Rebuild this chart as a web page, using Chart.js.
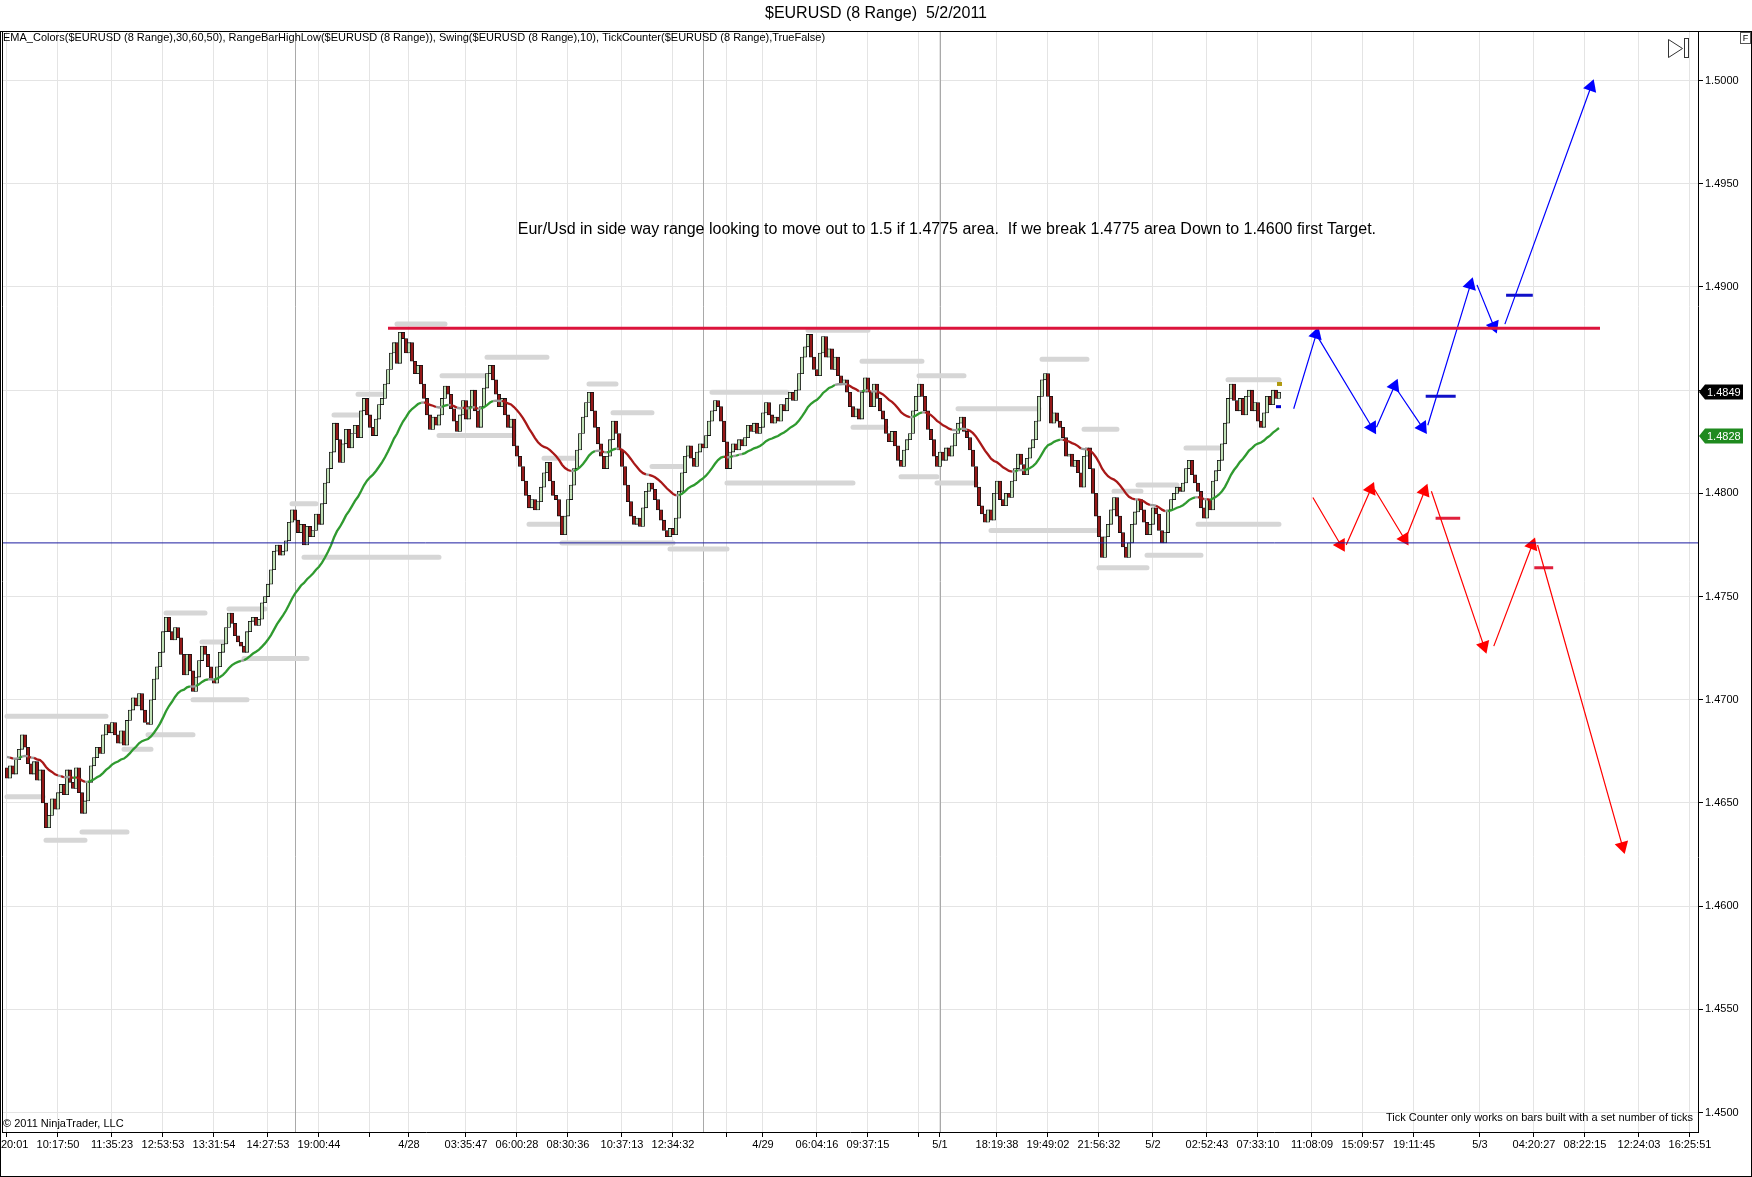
<!DOCTYPE html>
<html>
<head>
<meta charset="utf-8">
<script src="https://cdn.jsdelivr.net/npm/chart.js@4.4.1/dist/chart.umd.min.js"></script>
<style>
  html, body { margin: 0; padding: 0; background: #fff; }
</style>
</head>
<body>
<canvas id="chart" width="1752" height="1177"></canvas>
<script>
// closes of the 8-pip range bars (open = previous close)
const closes = [
  1.4662,1.4668,1.4664,1.4671,1.4676,1.4683,1.4677,1.4669,1.4664,1.4670,
  1.4661,1.4666,1.4650,1.4638,1.4644,1.4652,1.4647,1.4655,1.4659,1.4654,
  1.4666,1.4660,1.4657,1.4667,1.4655,1.4645,1.4651,1.4660,1.4668,1.4672,
  1.4677,1.4674,1.4683,1.4688,1.4684,1.4689,1.4683,1.4679,1.4685,1.4678,
  1.4690,1.4695,1.4701,1.4697,1.4703,1.4695,1.4689,1.4688,1.4700,1.4710,
  1.4716,1.4723,1.4733,1.4740,1.4733,1.4729,1.4735,1.4730,1.4722,1.4712,
  1.4722,1.4714,1.4704,1.4711,1.4719,1.4726,1.4722,1.4716,1.4710,1.4708,
  1.4716,1.4723,1.4727,1.4735,1.4742,1.4737,1.4731,1.4728,1.4726,1.4723,
  1.4733,1.4738,1.4740,1.4736,1.4739,1.4747,1.4750,1.4756,1.4763,1.4772,
  1.4775,1.4770,1.4772,1.4777,1.4786,1.4792,1.4787,1.4781,1.4785,1.4775,
  1.4784,1.4779,1.4782,1.4790,1.4785,1.4795,1.4805,1.4812,1.4820,1.4834,
  1.4826,1.4815,1.4824,1.4831,1.4822,1.4829,1.4833,1.4827,1.4840,1.4846,
  1.4838,1.4832,1.4828,1.4836,1.4843,1.4846,1.4853,1.4860,1.4868,1.4873,
  1.4863,1.4878,1.4875,1.4868,1.4873,1.4864,1.4858,1.4862,1.4853,1.4846,
  1.4838,1.4831,1.4837,1.4833,1.4838,1.4846,1.4852,1.4848,1.4841,1.4835,
  1.4830,1.4838,1.4845,1.4836,1.4842,1.4850,1.4840,1.4832,1.4842,1.4851,
  1.4858,1.4862,1.4855,1.4848,1.4842,1.4846,1.4838,1.4832,1.4836,1.4823,
  1.4818,1.4813,1.4806,1.4799,1.4793,1.4797,1.4792,1.4796,1.4803,1.4810,
  1.4815,1.4806,1.4799,1.4797,1.4789,1.4780,1.4789,1.4797,1.4804,1.4812,
  1.4821,1.4829,1.4837,1.4844,1.4849,1.4840,1.4832,1.4824,1.4818,1.4812,
  1.4818,1.4826,1.4835,1.4829,1.4821,1.4813,1.4804,1.4796,1.4789,1.4785,
  1.4788,1.4784,1.4793,1.4801,1.4805,1.4802,1.4797,1.4792,1.4787,1.4782,
  1.4779,1.4783,1.4780,1.4788,1.4801,1.4810,1.4818,1.4823,1.4817,1.4813,
  1.4820,1.4824,1.4822,1.4828,1.4835,1.4840,1.4845,1.4842,1.4835,1.4825,
  1.4812,1.4820,1.4824,1.4821,1.4826,1.4823,1.4827,1.4833,1.4830,1.4834,
  1.4829,1.4832,1.4839,1.4844,1.4838,1.4834,1.4837,1.4835,1.4843,1.4840,
  1.4846,1.4849,1.4845,1.4850,1.4858,1.4866,1.4871,1.4877,1.4866,1.4860,
  1.4857,1.4868,1.4876,1.4866,1.4870,1.4860,1.4866,1.4857,1.4853,1.4855,
  1.4849,1.4842,1.4837,1.4841,1.4836,1.4849,1.4856,1.4849,1.4842,1.4853,
  1.4846,1.4840,1.4836,1.4829,1.4825,1.4830,1.4823,1.4816,1.4813,1.4821,
  1.4826,1.4829,1.4840,1.4847,1.4853,1.4847,1.4840,1.4831,1.4826,1.4818,
  1.4813,1.4820,1.4816,1.4822,1.4818,1.4823,1.4829,1.4834,1.4837,1.4830,
  1.4827,1.4821,1.4813,1.4803,1.4794,1.4790,1.4786,1.4792,1.4787,1.4800,
  1.4806,1.4797,1.4794,1.4800,1.4798,1.4806,1.4812,1.4819,1.4814,1.4809,
  1.4817,1.4822,1.4826,1.4835,1.4847,1.4855,1.4858,1.4847,1.4834,1.4839,
  1.4835,1.4832,1.4827,1.4818,1.4819,1.4813,1.4816,1.4810,1.4803,1.4818,
  1.4822,1.4812,1.4800,1.4789,1.4779,1.4769,1.4779,1.4785,1.4792,1.4798,
  1.4789,1.4781,1.4774,1.4769,1.4776,1.4785,1.4791,1.4797,1.4792,1.4786,
  1.4780,1.4785,1.4793,1.4790,1.4782,1.4776,1.4781,1.4792,1.4797,1.4800,
  1.4803,1.4801,1.4805,1.4812,1.4816,1.4809,1.4805,1.4801,1.4793,1.4788,
  1.4797,1.4792,1.4806,1.4811,1.4816,1.4824,1.4834,1.4846,1.4853,1.4845,
  1.4840,1.4846,1.4838,1.4847,1.4850,1.4840,1.4844,1.4835,1.4832,1.4839,
  1.4847,1.4843,1.4850,1.4846,1.4849
];
const firstOpen = 1.4667;

// EMA_Colors(30): value before the first bar
const emaSeed = 1.4673;
const emaPeriod = 30;
const emaFlat = 0.00003;

// bottom axis: bar index of each tick and its label
const tickIdx = [0, 17, 35, 52, 69, 87, 104, 121, 134, 153, 170, 187, 205, 222, 240, 252, 270, 287,
  304, 311, 330, 347, 364, 382, 400, 417, 435, 452, 469, 491, 509, 526, 544, 561];
const tickLabels = ['09:20:01', '10:17:50', '11:35:23', '12:53:53', '13:31:54', '14:27:53', '19:00:44', '',
  '4/28', '03:35:47', '06:00:28', '08:30:36', '10:37:13', '12:34:32', '', '4/29', '06:04:16', '09:37:15',
  '', '5/1', '18:19:38', '19:49:02', '21:56:32', '5/2', '02:52:43', '07:33:10', '11:08:09', '15:09:57',
  '19:11:45', '5/3', '04:20:27', '08:22:15', '12:24:03', '16:25:51'];
const priceTicks = [1.4500, 1.4550, 1.4600, 1.4650, 1.4700, 1.4750, 1.4800, 1.4850, 1.4900, 1.4950, 1.5000];
const sessionBreaks = [96, 232, 311];

// Swing(10) levels: first bar, last bar, price
const swingFrom = [0, 0, 13, 25, 39, 47, 53, 65, 62, 74, 79, 95, 99, 109, 117, 130, 145, 144, 160, 179, 174, 194, 202,
  185, 221, 215, 235, 240, 267, 285, 282, 304, 298, 317, 310, 345, 359, 328, 369, 377, 364, 372, 380, 393, 397, 407];
const swingTo = [33, 12, 26, 40, 48, 62, 66, 73, 80, 86, 100, 103, 144, 118, 125, 146, 160, 169, 180, 190, 185, 203, 215,
  222, 240, 225, 260, 282, 287, 305, 293, 319, 310, 344, 323, 360, 370, 364, 378, 390, 373, 380, 398, 404, 424, 424];
const swingPrice = [1.4692, 1.4653, 1.4632, 1.4636, 1.4676, 1.4683, 1.4742, 1.4728, 1.4700, 1.4744, 1.4720, 1.4795,
  1.4769, 1.4838, 1.4848, 1.4882, 1.4857, 1.4828, 1.4866, 1.4817, 1.4785, 1.4853, 1.4839, 1.4776, 1.4773, 1.4813,
  1.4849, 1.4805, 1.4879, 1.4864, 1.4832, 1.4857, 1.4808, 1.4841, 1.4805, 1.4865, 1.4831, 1.4782, 1.4801, 1.4804,
  1.4764, 1.4764, 1.4770, 1.4822, 1.4785, 1.4855];

// drawn levels
const rangeTop = 1.4880, rangeTopFrom = 127, rangeTopTo = 531;
const breakLevel = 1.4776;

// hand-drawn scenarios: arrows (from -> to, head at "to") and short level dashes
const bullX0 = [428.9, 436.4, 456.5, 462.5, 473.6, 490.0, 499.3];
const bullY0 = [1.4841, 1.4877, 1.4832, 1.4852, 1.4833, 1.4901, 1.4882];
const bullX1 = [436.4, 455.0, 462.5, 471.8, 487.8, 495.6, 528.0];
const bullY1 = [1.4877, 1.4832, 1.4852, 1.4832, 1.4901, 1.4881, 1.4997];
const bearX0 = [435.3, 446.4, 455.8, 466.2, 474.8, 495.6, 510.2];
const bearY0 = [1.4798, 1.4775, 1.4802, 1.4778, 1.4801, 1.4726, 1.4775];
const bearX1 = [444.6, 454.6, 465.8, 472.5, 492.3, 508.4, 538.5];
const bearY1 = [1.4775, 1.4802, 1.4778, 1.4801, 1.4726, 1.4775, 1.4629];
const bullDashX0 = [472.9, 499.7], bullDashX1 = [482.9, 508.6], bullDashY = [1.4847, 1.4896];
const bearDashX0 = [476.2, 509.1], bearDashX1 = [484.4, 515.4], bearDashY = [1.4788, 1.4764];

// right-axis markers: last price, EMA
const lastPrice = 1.4849, lastEma = 1.4828;
// tick counter marks on the last bar
const counterHigh = 1.4853, counterLow = 1.4842;

const note = 'Eur/Usd in side way range looking to move out to 1.5 if 1.4775 area.  If we break 1.4775 area Down to 1.4600 first Target.';
const noteAt = { x: 313.3, y: 1.4928 };

const FONT = "'Liberation Sans', Arial, sans-serif";
Chart.defaults.font.family = FONT;

const opens = closes.map((c, i) => (i === 0 ? firstOpen : closes[i - 1]));
const ema = [];
let e = emaSeed;
const k = 2 / (emaPeriod + 1);
closes.forEach(c => { e = e + k * (c - e); ema.push(e); });

function segs(x0, y0, x1, y1) {
    const pts = [];
    for (let i = 0; i < x0.length; i++) {
        pts.push({ x: x0[i], y: y0[i] }, { x: x1[i], y: y1[i] }, { x: x1[i], y: null });
    }
    return pts;
}

function headAngle(ctx) {
    const i = ctx.dataIndex;
    if (i % 3 !== 1) return 0;
    const d = ctx.dataset.data;
    const sx = ctx.chart.scales.x, sy = ctx.chart.scales.y;
    const dx = sx.getPixelForValue(d[i].x) - sx.getPixelForValue(d[i - 1].x);
    const dy = sy.getPixelForValue(d[i].y) - sy.getPixelForValue(d[i - 1].y);
    return Math.atan2(dx, -dy) * 180 / Math.PI;
}

function arrowSet(color, x0, y0, x1, y1) {
    return {
        type: 'line',
        data: segs(x0, y0, x1, y1),
        borderColor: color,
        backgroundColor: color,
        borderWidth: 1.2,
        pointStyle: 'triangle',
        pointRadius: ctx => (ctx.dataIndex % 3 === 1 ? 8 : 0),
        pointRotation: headAngle,
        pointBorderWidth: 0,
        pointBackgroundColor: color,
        tension: 0,
        order: 0
    };
}

const chrome = {
    id: 'chrome',
    beforeDraw(chart) {
        const c = chart.ctx;
        c.save();
        c.fillStyle = '#fff';
        c.fillRect(0, 0, chart.width, chart.height);
        c.restore();
    },
    beforeDatasetsDraw(chart) {
        const c = chart.ctx, a = chart.chartArea, sx = chart.scales.x;
        c.save();
        c.strokeStyle = '#a9a9a9';
        c.lineWidth = 1;
        sessionBreaks.forEach(v => {
            const x = Math.round(sx.getPixelForValue(v)) + 0.5;
            c.beginPath(); c.moveTo(x, a.top); c.lineTo(x, a.bottom); c.stroke();
        });
        c.restore();
    },
    afterDatasetsDraw(chart) {
        const c = chart.ctx, sx = chart.scales.x, sy = chart.scales.y;
        const last = closes.length - 1;
        c.save();
        // tick counter marks
        const lx = sx.getPixelForValue(last);
        c.fillStyle = '#b09a10';
        c.fillRect(lx - 2, sy.getPixelForValue(counterHigh) - 2, 5, 4);
        c.fillStyle = '#0000d0';
        c.fillRect(lx - 3, sy.getPixelForValue(counterLow) - 1.5, 5, 3);
        // note
        c.fillStyle = '#000';
        c.font = '16px ' + FONT;
        c.textAlign = 'center';
        c.textBaseline = 'middle';
        c.fillText(note, sx.getPixelForValue(noteAt.x), sy.getPixelForValue(noteAt.y));
        c.restore();
    },
    afterDraw(chart) {
        const c = chart.ctx, a = chart.chartArea, sy = chart.scales.y;
        c.save();
        c.strokeStyle = '#000';
        c.lineWidth = 1;
        // outer frame and plot frame
        c.strokeRect(0.5, 31.5, chart.width - 1, chart.height - 32);
        c.beginPath();
        c.moveTo(a.left + 0.5, a.top); c.lineTo(a.left + 0.5, a.bottom);
        c.stroke();

        // small texts
        c.fillStyle = '#000';
        c.font = '11px ' + FONT;
        c.textBaseline = 'middle';
        c.textAlign = 'left';
        c.fillText('EMA_Colors($EURUSD (8 Range),30,60,50), RangeBarHighLow($EURUSD (8 Range)), Swing($EURUSD (8 Range),10), TickCounter($EURUSD (8 Range),TrueFalse)', a.left + 1, a.top + 7);
        c.fillText('\u00a9 2011 NinjaTrader, LLC', a.left + 1, a.bottom - 8);
        c.textAlign = 'right';
        c.fillText('Tick Counter only works on bars built with a set number of ticks', a.right - 5, a.bottom - 14);

        // F box
        c.strokeStyle = '#555';
        c.strokeRect(chart.width - 11.5, 32.5, 10, 11);
        c.fillStyle = '#000';
        c.font = '9px ' + FONT;
        c.textAlign = 'center';
        c.fillText('F', chart.width - 6.5, 38.5);

        // play-to-end icon
        c.strokeStyle = '#333';
        c.fillStyle = '#fff';
        c.beginPath();
        c.moveTo(a.right - 29.5, 39.5); c.lineTo(a.right - 29.5, 57.5); c.lineTo(a.right - 15.5, 48.5); c.closePath();
        c.fill(); c.stroke();
        c.strokeRect(a.right - 13.5, 38.5, 4, 19);

        // price flags on the axis
        const flag = (v, bg) => {
            const y = Math.round(sy.getPixelForValue(v));
            const x0 = a.right + 1, w = 44, h = 15;
            c.fillStyle = bg;
            c.beginPath();
            c.moveTo(x0, y);
            c.lineTo(x0 + 6, y - h / 2); c.lineTo(x0 + w, y - h / 2);
            c.lineTo(x0 + w, y + h / 2); c.lineTo(x0 + 6, y + h / 2);
            c.closePath(); c.fill();
            c.fillStyle = '#fff';
            c.font = '11px ' + FONT;
            c.textAlign = 'left';
            c.textBaseline = 'middle';
            c.fillText(v.toFixed(4), x0 + 8, y + 0.5);
        };
        flag(lastPrice, '#000');
        flag(lastEma, '#1f8a1f');
        c.restore();
    }
};

const datasets = [
    {
        type: 'bar',
        label: 'bars',
        data: closes.map((cl, i) => ({ x: i, y: [opens[i], cl] })),
        backgroundColor: closes.map((cl, i) => (cl >= opens[i] ? '#c0e0b6' : '#951818')),
        borderColor: '#111',
        borderWidth: 0.8,
        borderSkipped: false,
        barThickness: 3.3,
        grouped: false,
        order: 2
    },
    {
        type: 'line',
        label: 'EMA',
        data: ema.map((v, i) => ({ x: i, y: v })),
        borderWidth: 2.3,
        pointRadius: 0,
        tension: 0,
        segment: {
            borderColor: s => {
                const d = ema[s.p1DataIndex] - ema[s.p0DataIndex];
                return d > emaFlat ? '#2f9a2f' : (d < -emaFlat ? '#a81818' : '#9a9a9a');
            }
        },
        order: 1
    },
    {
        type: 'line',
        label: 'swings',
        data: segs(swingFrom, swingPrice, swingTo, swingPrice),
        borderColor: '#d6d6d6',
        borderWidth: 5,
        borderCapStyle: 'round',
        pointRadius: 0,
        order: 3
    },
    {
        type: 'line',
        label: 'range top',
        data: [{ x: rangeTopFrom, y: rangeTop }, { x: rangeTopTo, y: rangeTop }],
        borderColor: '#dc143c',
        borderWidth: 3,
        pointRadius: 0,
        order: 0
    },
    {
        type: 'line',
        label: 'break level',
        data: [{ x: -10, y: breakLevel }, { x: 600, y: breakLevel }],
        borderColor: '#1c1ca0',
        borderWidth: 1,
        pointRadius: 0,
        order: 0
    },
    arrowSet('#0000ff', bullX0, bullY0, bullX1, bullY1),
    arrowSet('#ff0000', bearX0, bearY0, bearX1, bearY1),
    {
        type: 'line',
        data: segs(bullDashX0, bullDashY, bullDashX1, bullDashY),
        borderColor: '#1010c8',
        borderWidth: 3,
        pointRadius: 0,
        order: 0
    },
    {
        type: 'line',
        data: segs(bearDashX0, bearDashY, bearDashX1, bearDashY),
        borderColor: '#e0203c',
        borderWidth: 3,
        pointRadius: 0,
        order: 0
    }
];

new Chart(document.getElementById('chart').getContext('2d'), {
    data: { datasets: datasets },
    options: {
        responsive: false,
        devicePixelRatio: 1,
        animation: false,
        layout: { padding: { top: 0, left: 2, right: 2, bottom: 4 } },
        plugins: {
            legend: { display: false },
            tooltip: { enabled: false },
            title: {
                display: true,
                text: '$EURUSD (8 Range)  5/2/2011',
                color: '#000',
                font: { size: 16, weight: 'normal', lineHeight: 1.2 },
                padding: { top: 4, bottom: 7.8 }
            }
        },
        scales: {
            x: {
                type: 'linear',
                offset: false,
                min: -5 / 3,
                max: 563.67,
                afterBuildTicks: s => { s.ticks = tickIdx.map(v => ({ value: v })); },
                afterFit: s => { s.height = 41; s.paddingLeft = 0; s.paddingRight = 0; },
                ticks: {
                    autoSkip: false,
                    maxRotation: 0,
                    minRotation: 0,
                    padding: 1,
                    color: '#000',
                    font: { size: 11 },
                    callback: (v, i) => tickLabels[i]
                },
                grid: { offset: false, color: '#e4e4e4', tickColor: '#000', tickLength: 5 },
                border: { color: '#000', width: 1 }
            },
            y: {
                type: 'linear',
                position: 'right',
                min: 1.44906,
                max: 1.50240,
                afterBuildTicks: s => { s.ticks = priceTicks.map(v => ({ value: v })); },
                afterFit: s => { s.width = 52; s.paddingTop = 0; s.paddingBottom = 0; },
                ticks: {
                    padding: 2,
                    color: '#000',
                    font: { size: 11 },
                    callback: v => v.toFixed(4)
                },
                grid: { color: '#e4e4e4', tickColor: '#000', tickLength: 5 },
                border: { color: '#000', width: 1 }
            }
        }
    },
    plugins: [chrome]
});
</script>
</body>
</html>
